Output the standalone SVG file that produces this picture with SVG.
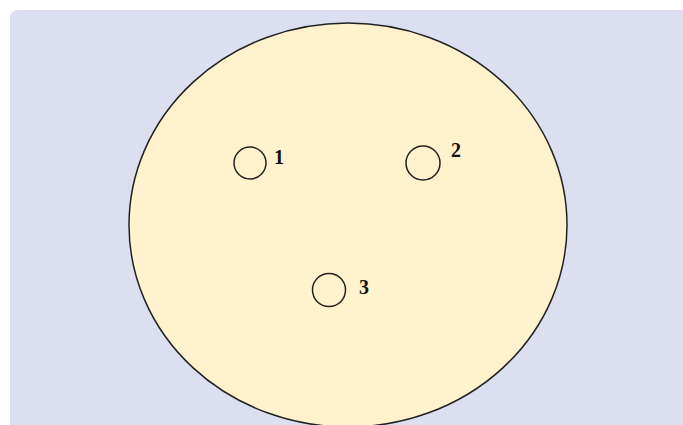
<svg xmlns="http://www.w3.org/2000/svg" width="683" height="425" viewBox="0 0 683 425">
<style>
.hole{fill:none;stroke:#222;stroke-width:1.5}
.lbl{font-family:"Liberation Serif",serif;font-weight:bold;font-size:20px;fill:#111}
</style>
<rect x="0" y="0" width="683" height="425" fill="#ffffff"/>
<rect id="panel" x="10" y="10" width="690" height="440" rx="8" fill="#dcdff0"/>
<g id="body">
<ellipse cx="348" cy="225" rx="219" ry="202" fill="#fff2cc" stroke="#222" stroke-width="1.5"/>
</g>
<g id="connectors"></g>
<g id="node1">
<circle class="hole" cx="250" cy="163" r="16"/>
<text class="lbl" x="274" y="164">1</text>
</g>
<g id="node2">
<circle class="hole" cx="423" cy="163" r="17"/>
<text class="lbl" x="451" y="157">2</text>
</g>
<g id="node3">
<circle class="hole" cx="329" cy="290" r="16.5"/>
<text class="lbl" x="359" y="294">3</text>
</g>
</svg>
